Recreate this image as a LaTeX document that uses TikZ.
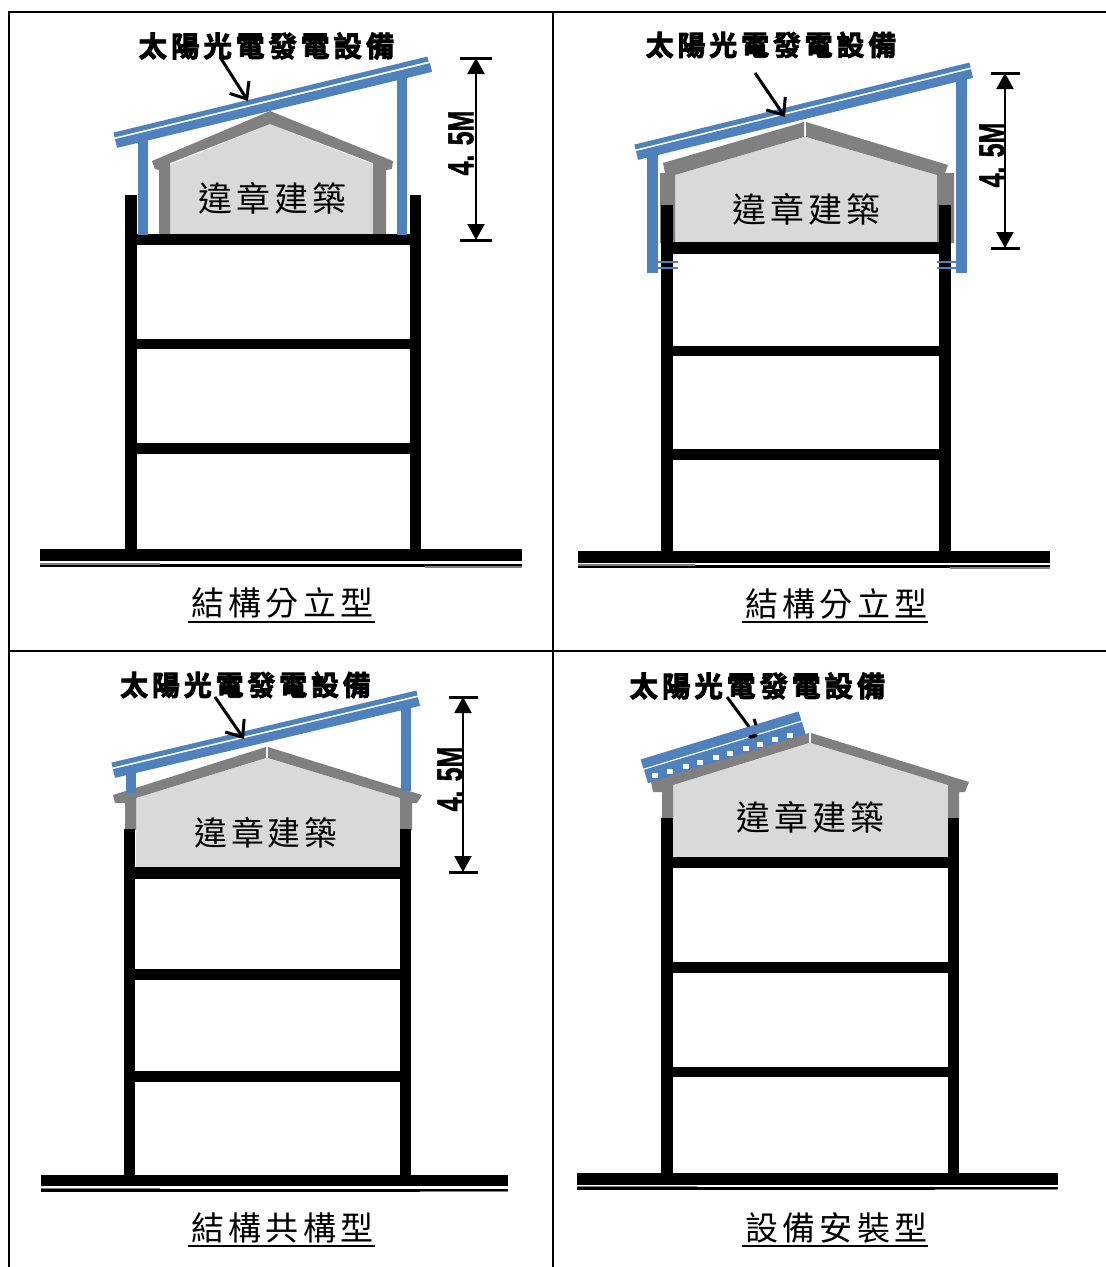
\documentclass[tikz,border=0pt]{standalone}
\usepackage{fontspec}
\usetikzlibrary{arrows.meta}
\newfontfamily\cjkttl[LetterSpace=14,FakeBold=3]{Noto Sans CJK TC Bold}
\newfontfamily\cjkbody[LetterSpace=11]{Noto Sans CJK TC}
\newfontfamily\cjkcap[LetterSpace=13]{Noto Sans CJK TC}
\newfontfamily\dimfont[FakeBold=1.5]{Liberation Sans Bold}
\definecolor{pvblue}{HTML}{4F81BD}
\definecolor{wallgray}{HTML}{808080}
\definecolor{infill}{HTML}{D9D9D9}
\tikzset{
  tableline/.style={line width=2pt,black},
  struct/.style={fill=black,draw=none},
  ground/.style={fill=black,draw=none},
  thinground/.style={line width=3pt,black},
  groundedge/.style={line width=1.5pt,wallgray},
  post/.style={fill=pvblue,draw=none},
  pvthin/.style={line width=5pt,pvblue},
  pvthick/.style={line width=9pt,pvblue},
  grayshape/.style={fill=wallgray,draw=none},
  illegal/.style={fill=infill,draw=none},
  ttl/.style={font=\fontsize{28.5}{28.5}\selectfont\cjkttl,inner sep=0pt},
  ttlnarrow/.style={font=\fontsize{27.9}{27.9}\selectfont\cjkttl,inner sep=0pt},
  bodytxt/.style={font=\fontsize{34}{34}\selectfont\cjkbody,inner sep=0pt},
  bodynarrow/.style={font=\fontsize{33}{33}\selectfont\cjkbody,inner sep=0pt},
  captxt/.style={font=\fontsize{33}{33}\selectfont\cjkcap,inner sep=0pt},
  caprule/.style={line width=2pt,black},
  pointer/.style={line width=3pt,black,-{Straight Barb[length=14pt,width=23pt,line width=3pt]}},
  dimline/.style={line width=2.2pt,black,{Triangle[length=16pt,width=17pt]}-{Triangle[length=16pt,width=17pt]}},
  dimtick/.style={line width=3pt,black},
  dimtxt/.style={font=\dimfont\fontsize{25}{25}\selectfont,rotate=90,inner sep=0pt},
}
\newcommand{\dimlabel}{\scalebox{1}[1.45]{4. 5M}}
\begin{document}
\begin{tikzpicture}[x=1pt,y=-1pt]
\useasboundingbox (0,0) rectangle (1106,1267);
\fill[white] (0,0) rectangle (1106,1267);
% table
\draw[tableline] (8.5,1267) -- (8.5,11.5) -- (1106,11.5);
\draw[tableline] (553,11.5) -- (553,1267);
\draw[tableline] (8.5,651) -- (1106,651);

% ===== panel 1
\fill[illegal] (170,165) -- (270,124) -- (374,165) -- (374,234) -- (170,234) -- cycle;
\fill[grayshape] (152,161) -- (270,111) -- (393,161) -- (392,169) -- (386,170) -- (386,235) -- (373,235) -- (373,163) -- (270,124) -- (170,163) -- (170,235) -- (159,235) -- (159,170) -- (155,169) -- cycle;
\fill[struct] (125,195) rectangle (137,549);
\fill[struct] (410,195) rectangle (421,549);
\fill[struct] (125,234) rectangle (421,245);
\fill[struct] (125,339) rectangle (421,349);
\fill[struct] (125,443) rectangle (421,454);
\fill[post] (138,138) rectangle (148,235);
\fill[post] (397,76) rectangle (407,235);
\draw[pvthin] (114,135) -- (428,59);
\draw[pvthick] (116,143.5) -- (431,67.5);
\fill[ground] (40,549) rectangle (522,561);
\draw[thinground] (40,565.5) -- (522,565.5);
\draw[groundedge] (40,564) -- (160,564);
\draw[groundedge] (425,567) -- (522,567);
\node[ttl] (t1) at (266.5,46) {太陽光電發電設備};
\coordinate (a1s) at (220,57);
\coordinate (a1e) at (248,101);
\draw[pointer] (a1s) -- (a1e);
\node[bodytxt] (b1) at (272.5,198) {違章建築};
\node[captxt] (c1) at (282.5,603) {結構分立型};
\draw[caprule] (188,621.5) -- (375,621.5);
\coordinate (d1a) at (476,58);
\coordinate (d1b) at (476,240);
\draw[dimline] (d1a) -- (d1b);
\draw[dimtick] (460,58) -- (492,58);
\draw[dimtick] (460,240) -- (492,240);
\node[dimtxt] (l1) at (461,143) {\dimlabel};

% ===== panel 2
\fill[illegal] (675,175) -- (805,137) -- (937,175) -- (937,243) -- (675,243) -- cycle;
\fill[grayshape] (663,163) -- (804,122) -- (804,137) -- (675,175) -- (675,243) -- (660,243) -- (660,173) -- (665,173) -- cycle;
\fill[grayshape] (948,165) -- (806,122) -- (806,137) -- (937,175) -- (937,243) -- (954,243) -- (954,173) -- (945,173) -- cycle;
\fill[struct] (661,205) rectangle (673,551);
\fill[struct] (939,205) rectangle (951,551);
\fill[struct] (661,242) rectangle (951,254);
\fill[struct] (661,346) rectangle (951,356);
\fill[struct] (661,449) rectangle (951,460);
\fill[post] (647,153) rectangle (658,273);
\fill[post] (956,76) rectangle (967,273);
\foreach \yy in {262,268}{
  \draw[line width=2.5pt,pvblue] (658,\yy) -- (678,\yy);
  \draw[line width=2.5pt,pvblue] (937,\yy) -- (956,\yy);
}
\draw[pvthin] (635,147) -- (970,65);
\draw[pvthick] (637,155.5) -- (972,73.5);
\fill[ground] (578,551) rectangle (1050,563);
\draw[thinground] (578,566.5) -- (1050,566.5);
\draw[groundedge] (578,565) -- (695,565);
\draw[groundedge] (950,568) -- (1050,568);
\node[ttlnarrow] (t2) at (771,45) {太陽光電發電設備};
\coordinate (a2s) at (755,73);
\coordinate (a2e) at (785,117);
\draw[pointer] (a2s) -- (a2e);
\node[bodytxt] (b2) at (806.5,209) {違章建築};
\node[captxt] (c2) at (836.5,604) {結構分立型};
\draw[caprule] (742,621.5) -- (928,621.5);
\coordinate (d2a) at (1005,73);
\coordinate (d2b) at (1005,248);
\draw[dimline] (d2a) -- (d2b);
\draw[dimtick] (991,73) -- (1020,73);
\draw[dimtick] (991,248) -- (1020,248);
\node[dimtxt] (l2) at (992,155) {\dimlabel};

% ===== panel 3
\fill[illegal] (136,798) -- (267,758) -- (400,798) -- (400,868) -- (136,868) -- cycle;
\fill[grayshape] (113,795) -- (266,747) -- (266,758) -- (136,798) -- (136,830) -- (125,830) -- (125,803) -- (115,803) -- cycle;
\fill[grayshape] (422,795) -- (268,747) -- (268,758) -- (400,798) -- (400,830) -- (412,830) -- (412,803) -- (417,803) -- cycle;
\fill[struct] (124,829) rectangle (135,1175);
\fill[struct] (400,829) rectangle (411,1175);
\fill[struct] (124,867) rectangle (411,879);
\fill[struct] (124,969) rectangle (411,980);
\fill[struct] (124,1071) rectangle (411,1082);
\fill[post] (126,771) rectangle (136,793);
\fill[post] (401,705) rectangle (411,791);
\draw[pvthin] (112,765) -- (417,693);
\draw[pvthick] (114,773.5) -- (419,701.5);
\fill[ground] (41,1175) rectangle (508,1186);
\draw[thinground] (41,1190) -- (508,1190);
\draw[groundedge] (41,1188.5) -- (160,1188.5);
\draw[groundedge] (420,1191.5) -- (508,1191.5);
\node[ttlnarrow] (t3) at (245.5,685) {太陽光電發電設備};
\coordinate (a3s) at (215,697);
\coordinate (a3e) at (244,739);
\draw[pointer] (a3s) -- (a3e);
\node[bodynarrow] (b3) at (266,833) {違章建築};
\node[captxt] (c3) at (282.5,1228) {結構共構型};
\draw[caprule] (188,1245.5) -- (375,1245.5);
\coordinate (d3a) at (463,697);
\coordinate (d3b) at (463,872);
\draw[dimline] (d3a) -- (d3b);
\draw[dimtick] (449,697) -- (478,697);
\draw[dimtick] (449,872) -- (478,872);
\node[dimtxt] (l3) at (450,779) {\dimlabel};

% ===== panel 4
\node[ttl] (t4) at (757.5,686) {太陽光電發電設備};
\coordinate (a4s) at (727,697);
\coordinate (a4e) at (750,728);
\draw[line width=3pt,black] (a4s) -- (a4e);
\draw[line width=9.5pt,pvblue] (642,764) -- (800,716);
\draw[line width=14pt,pvblue] (646,776.5) -- (804,728.5);
\foreach \xx/\yy in {655/775,670/771,686/766,700/762,716/757,730/753,746/748,760/744,775/739,790/735}{
  \fill[white] (\xx-3,\yy-2.5) rectangle (\xx+3,\yy+3);
}
\draw[line width=3pt,black] (754,719) -- (756,725);
\draw[line width=3.5pt,black,line cap=round] (750,737) -- (756,735.5);
\fill[illegal] (673,785) -- (810,743) -- (948,785) -- (948,858) -- (673,858) -- cycle;
\fill[grayshape] (651,782) -- (809,733) -- (809,743) -- (673,785) -- (673,819) -- (662,819) -- (662,792) -- (653,792) -- cycle;
\fill[grayshape] (969,782) -- (811,733) -- (811,743) -- (948,785) -- (948,819) -- (959,819) -- (959,792) -- (965,792) -- cycle;
\fill[struct] (661,818) rectangle (673,1173);
\fill[struct] (948,818) rectangle (959,1173);
\fill[struct] (661,857) rectangle (959,868);
\fill[struct] (661,962) rectangle (959,973);
\fill[struct] (661,1067) rectangle (959,1077);
\fill[ground] (577,1173) rectangle (1058,1185);
\draw[thinground] (577,1188) -- (1058,1188);
\draw[groundedge] (577,1186.5) -- (697,1186.5);
\draw[groundedge] (935,1189.5) -- (1058,1189.5);
\node[bodytxt] (b4) at (810.5,817) {違章建築};
\node[captxt] (c4) at (836.5,1228) {設備安裝型};
\draw[caprule] (742,1245.5) -- (928,1245.5);
\end{tikzpicture}
\end{document}
